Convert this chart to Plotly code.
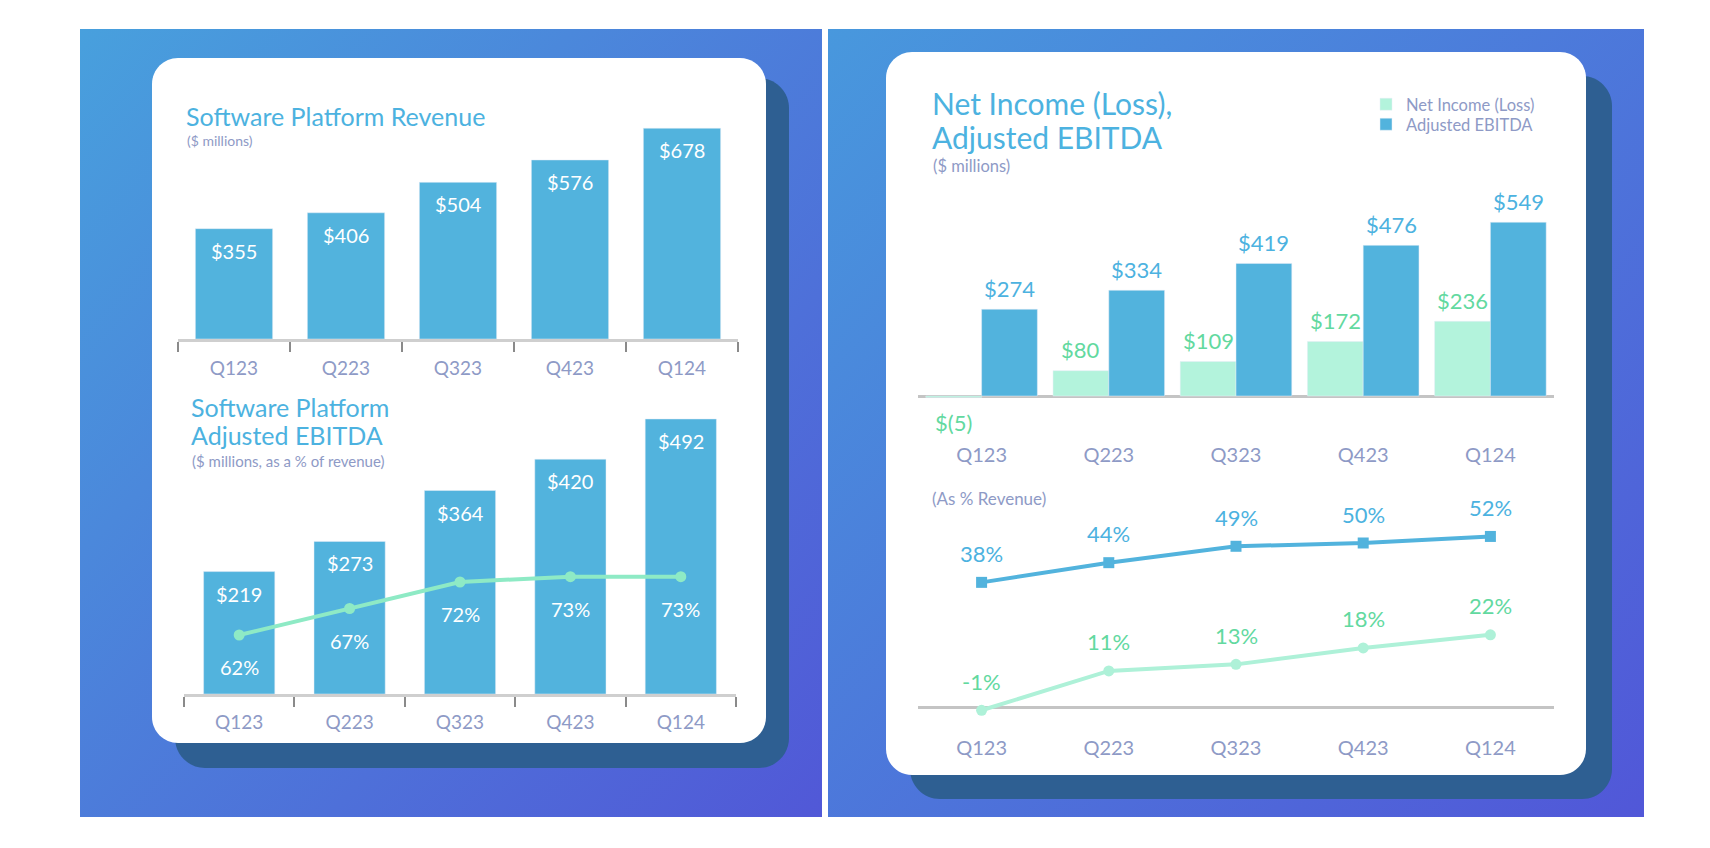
import base64
import plotly.graph_objects as go

# ---------------- data ----------------
quarters = ["Q123", "Q223", "Q323", "Q423", "Q124"]
sw_revenue = [355, 406, 504, 576, 678]
sw_ebitda = [219, 273, 364, 420, 492]
sw_ebitda_margin = [62, 67, 72, 73, 73]
net_income = [-5, 80, 109, 172, 236]
adj_ebitda = [274, 334, 419, 476, 549]
adj_ebitda_margin = [38, 44, 49, 50, 52]
net_income_margin = [-1, 11, 13, 18, 22]

# ---------------- style ----------------
FONT = "Lato, 'Noto Sans', sans-serif"
TITLE_BLUE = "#4cb2e0"
BAR_BLUE = "#52b3dd"
MINT_BAR = "#b3f3dc"
MINT_TXT = "#62d99f"
MINT_LINE_L = "#8eeac5"
MINT_LINE_R = "#aef1d8"
GREY_TXT = "#8e9ac6"
SHADOW = "#2e5f92"

W, H = 1694, 832
OFF = 8  # page body margin


def X(px):
    return (px - OFF) / W


def Y(py):
    return 1 - (py - OFF) / H


def rrect(x0, y0, x1, y1, r):
    k = 0.5523 * r
    pts = [
        f"M {X(x0 + r)},{Y(y0)}",
        f"L {X(x1 - r)},{Y(y0)}",
        f"C {X(x1 - r + k)},{Y(y0)} {X(x1)},{Y(y0 + r - k)} {X(x1)},{Y(y0 + r)}",
        f"L {X(x1)},{Y(y1 - r)}",
        f"C {X(x1)},{Y(y1 - r + k)} {X(x1 - r + k)},{Y(y1)} {X(x1 - r)},{Y(y1)}",
        f"L {X(x0 + r)},{Y(y1)}",
        f"C {X(x0 + r - k)},{Y(y1)} {X(x0)},{Y(y1 - r + k)} {X(x0)},{Y(y1 - r)}",
        f"L {X(x0)},{Y(y0 + r)}",
        f"C {X(x0)},{Y(y0 + r - k)} {X(x0 + r - k)},{Y(y0)} {X(x0 + r)},{Y(y0)}",
        "Z",
    ]
    return " ".join(pts)


def gradient_uri(c0, c1):
    svg = (
        "<svg xmlns='http://www.w3.org/2000/svg' width='400' height='400' "
        "preserveAspectRatio='none' viewBox='0 0 400 400'>"
        "<defs><linearGradient id='g' x1='0' y1='0' x2='1' y2='1'>"
        f"<stop offset='0' stop-color='{c0}'/><stop offset='1' stop-color='{c1}'/>"
        "</linearGradient></defs><rect width='400' height='400' fill='url(#g)'/></svg>"
    )
    return "data:image/svg+xml;base64," + base64.b64encode(svg.encode()).decode()


fig = go.Figure()

# ---------- chart 1: software platform revenue ----------
fig.add_trace(go.Bar(x=quarters, y=sw_revenue, marker_color=BAR_BLUE, width=0.69,
                     xaxis="x", yaxis="y", showlegend=False))

# ---------- chart 2: software platform adj. EBITDA ----------
fig.add_trace(go.Bar(x=quarters, y=sw_ebitda, marker_color=BAR_BLUE, width=0.645,
                     xaxis="x2", yaxis="y2", showlegend=False))
fig.add_trace(go.Scatter(x=quarters, y=sw_ebitda_margin, mode="lines+markers",
                         line=dict(color=MINT_LINE_L, width=4),
                         marker=dict(size=11, color=MINT_LINE_L),
                         xaxis="x2", yaxis="y3", showlegend=False, cliponaxis=False))

# ---------- chart 3: net income / adj EBITDA ----------
fig.add_trace(go.Bar(x=quarters, y=net_income, name="Net Income (Loss)",
                     marker_color=MINT_BAR, width=0.4385, offset=-0.4385,
                     xaxis="x4", yaxis="y4", cliponaxis=False, legend="legend"))
fig.add_trace(go.Bar(x=quarters, y=adj_ebitda, name="Adjusted EBITDA",
                     marker_color=BAR_BLUE, width=0.4385, offset=0,
                     xaxis="x4", yaxis="y4", legend="legend2"))

# ---------- chart 4: margins ----------
fig.add_trace(go.Scatter(x=quarters, y=adj_ebitda_margin, mode="lines+markers",
                         line=dict(color=BAR_BLUE, width=4),
                         marker=dict(size=11, symbol="square", color=BAR_BLUE),
                         xaxis="x5", yaxis="y5", showlegend=False, cliponaxis=False))
fig.add_trace(go.Scatter(x=quarters, y=net_income_margin, mode="lines+markers",
                         line=dict(color=MINT_LINE_R, width=4),
                         marker=dict(size=11, color=MINT_LINE_R),
                         xaxis="x5", yaxis="y5", showlegend=False, cliponaxis=False))

ann = []


def text(x, y, s, size, color, xanchor="left", **kw):
    ann.append(dict(x=X(x), y=Y(y), xref="paper", yref="paper", text=s,
                    showarrow=False, xanchor=xanchor, yanchor="middle",
                    font=dict(family=FONT, size=size, color=color), **kw))


# titles
text(184, 116, "Software Platform Revenue", 25, TITLE_BLUE)
text(185, 141, "($ millions)", 14, GREY_TXT)
text(189, 407, "Software Platform", 25, TITLE_BLUE)
text(189, 435, "Adjusted EBITDA", 25, TITLE_BLUE)
text(190, 461, "($ millions, as a % of revenue)", 15, GREY_TXT)
text(930, 103, "Net Income (Loss),", 30, TITLE_BLUE)
text(930, 137, "Adjusted EBITDA", 30, TITLE_BLUE)
text(931, 166, "($ millions)", 16.5, GREY_TXT)
text(930, 499, "(As % Revenue)", 17, GREY_TXT)


def dlabel(xref, yref, x, y, s, size, color, yshift):
    ann.append(dict(x=x, y=y, xref=xref, yref=yref, text=s, showarrow=False,
                    xanchor="center", yanchor="middle", yshift=yshift,
                    font=dict(family=FONT, size=size, color=color)))


def money(v):
    return f"${v}" if v >= 0 else f"$({abs(v)})"


for i, v in enumerate(sw_revenue):
    dlabel("x", "y", i, v, money(v), 20, "white", -22)
for i, v in enumerate(sw_ebitda):
    dlabel("x2", "y2", i, v, money(v), 20, "white", -22)
for i, v in enumerate(sw_ebitda_margin):
    dlabel("x2", "y3", i, v, f"{v}%", 20, "white", -32)
for i, v in enumerate(adj_ebitda):
    dlabel("x4", "y4", i + 0.219, v, money(v), 22, TITLE_BLUE, 21)
for i, v in enumerate(net_income):
    dlabel("x4", "y4", i - 0.219, v, money(v), 22, MINT_TXT, 21 if v >= 0 else -25)
for i, v in enumerate(adj_ebitda_margin):
    dlabel("x5", "y5", i, v, f"{v}%", 22, TITLE_BLUE, 29)
for i, v in enumerate(net_income_margin):
    dlabel("x5", "y5", i, v, f"{v}%", 22, MINT_TXT, 29)

# background panels, shadows and cards
images = [
    dict(source=gradient_uri("#48a0dd", "#5158d7"), xref="paper", yref="paper",
         x=X(80), y=Y(29), sizex=(822 - 80) / W, sizey=(817 - 29) / H,
         xanchor="left", yanchor="top", sizing="stretch", layer="below"),
    dict(source=gradient_uri("#4898dd", "#5157d8"), xref="paper", yref="paper",
         x=X(828), y=Y(29), sizex=(1644 - 828) / W, sizey=(817 - 29) / H,
         xanchor="left", yanchor="top", sizing="stretch", layer="below"),
]
shapes = [
    dict(type="path", path=rrect(175, 78, 789, 768, 30), xref="paper", yref="paper",
         fillcolor=SHADOW, line=dict(width=0), layer="below"),
    dict(type="path", path=rrect(152, 58, 766, 743, 26), xref="paper", yref="paper",
         fillcolor="white", line=dict(width=0), layer="below"),
    dict(type="path", path=rrect(910, 76, 1612, 799, 30), xref="paper", yref="paper",
         fillcolor=SHADOW, line=dict(width=0), layer="below"),
    dict(type="path", path=rrect(886, 52, 1586, 775, 26), xref="paper", yref="paper",
         fillcolor="white", line=dict(width=0), layer="below"),
]

cat_axis = dict(type="category", categoryorder="array", categoryarray=quarters,
                range=[-0.5, 4.5], showgrid=False, zeroline=False, fixedrange=True)
hidden_y = dict(visible=False, showgrid=False, zeroline=False, fixedrange=True)

boundary_axis = dict(showline=True, linecolor="#cfcfcf", linewidth=2.5,
                     ticks="outside", tickson="boundaries", ticklen=10,
                     tickcolor="#8a8a8a", tickwidth=2)

legend_style = dict(xanchor="left", yanchor="middle", bgcolor="rgba(0,0,0,0)",
                    font=dict(family=FONT, size=16.5, color=GREY_TXT),
                    itemwidth=30, tracegroupgap=0)

fig.update_layout(
    width=W, height=H, margin=dict(l=0, r=0, t=0, b=0, pad=0),
    paper_bgcolor="white", plot_bgcolor="rgba(0,0,0,0)",
    font=dict(family=FONT, color=GREY_TXT),
    barmode="overlay",
    xaxis=dict(**cat_axis, **boundary_axis, domain=[X(178), X(738)], anchor="y",
               ticklabelstandoff=10,
               tickfont=dict(family=FONT, size=19, color=GREY_TXT)),
    yaxis=dict(**hidden_y, domain=[Y(339), Y(121.4)], range=[0, 700], anchor="x"),
    xaxis2=dict(**cat_axis, **boundary_axis, domain=[X(184), X(736)], anchor="y2",
                ticklabelstandoff=9,
                tickfont=dict(family=FONT, size=19, color=GREY_TXT)),
    yaxis2=dict(**hidden_y, domain=[Y(694), Y(414.5)], range=[0, 500], anchor="x2"),
    yaxis3=dict(**hidden_y, overlaying="y2", range=[50.87, 103.6], anchor="x2"),
    xaxis4=dict(**cat_axis, domain=[X(918), X(1554)], anchor="y4", showline=False,
                ticks="", ticklabelstandoff=35,
                tickfont=dict(family=FONT, size=20, color=GREY_TXT)),
    yaxis4=dict(visible=True, showticklabels=False, showgrid=False, zeroline=True,
                zerolinecolor="#c4c4c4", zerolinewidth=2.5, fixedrange=True,
                domain=[Y(405.5), Y(206.1)], range=[-30, 600], anchor="x4"),
    xaxis5=dict(**cat_axis, domain=[X(918), X(1554)], anchor="y5", showline=False,
                ticks="", ticklabelstandoff=11,
                tickfont=dict(family=FONT, size=20, color=GREY_TXT)),
    yaxis5=dict(visible=True, showticklabels=False, showgrid=False, zeroline=True,
                zerolinecolor="#c4c4c4", zerolinewidth=2.5, fixedrange=True,
                domain=[Y(723.4), Y(510.2)], range=[-5, 60], anchor="x5"),
    legend=dict(**legend_style, x=X(1366), y=Y(104.5)),
    legend2=dict(**legend_style, x=X(1366), y=Y(124.5)),
    annotations=ann, images=images, shapes=shapes,
)

fig.write_html("out.html")
